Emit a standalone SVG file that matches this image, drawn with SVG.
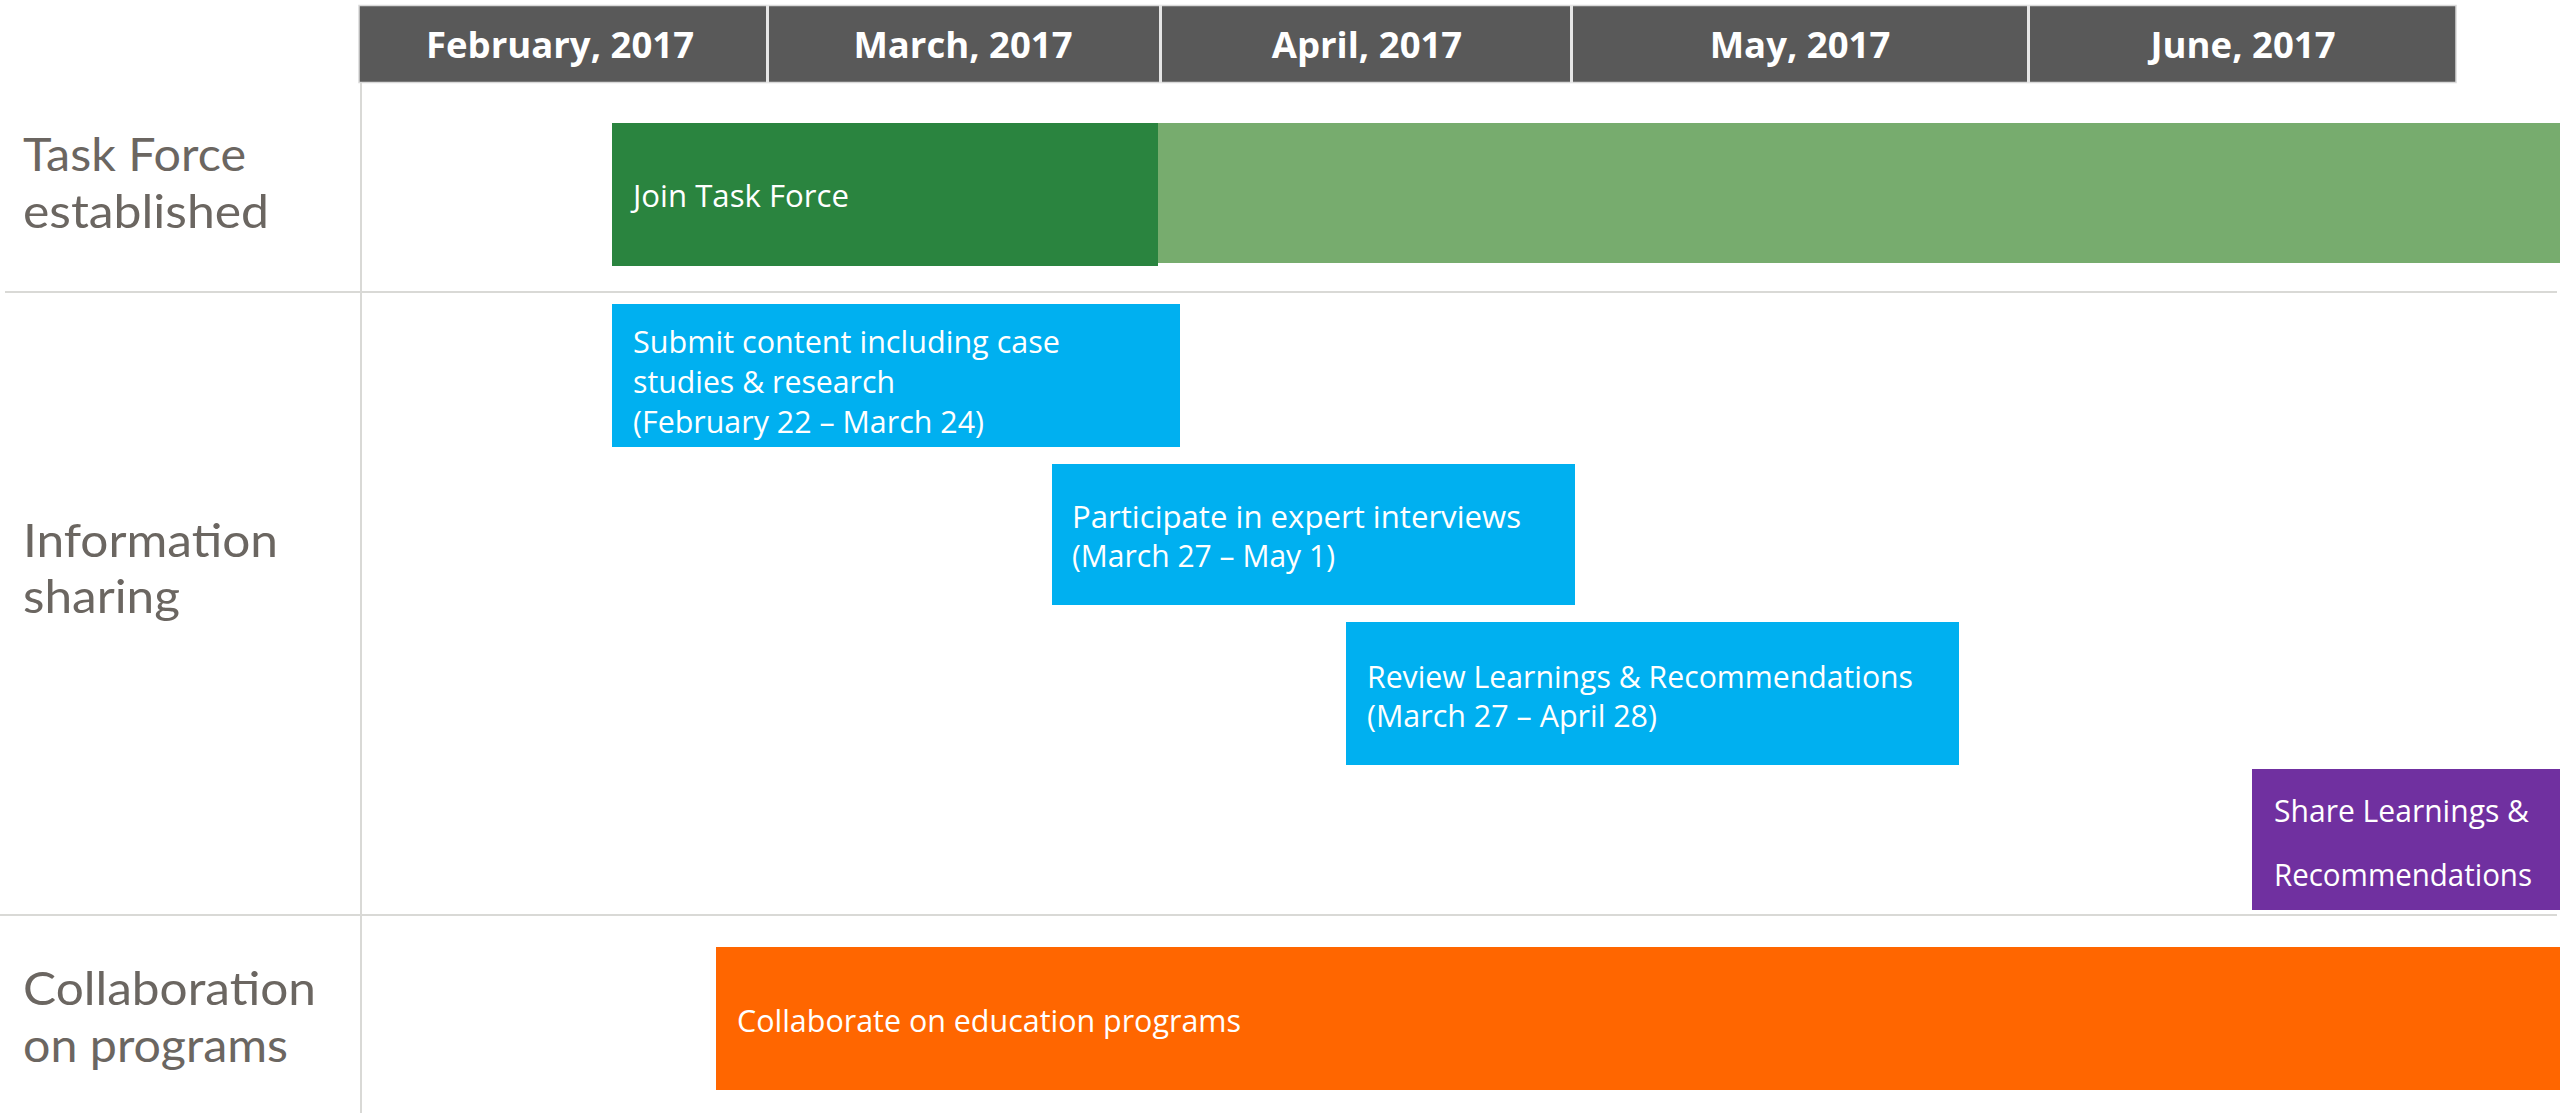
<svg xmlns="http://www.w3.org/2000/svg" width="2560" height="1113" viewBox="0 0 2560 1113">
<style>
.mon{font-family:"Open Sans","Noto Sans",sans-serif;font-weight:bold;font-size:36.5px;fill:#ffffff;text-anchor:middle;}
.lbl{font-family:Lato,"Open Sans",sans-serif;font-size:47px;fill:#6b6661;}
.bt{font-family:"Open Sans","Noto Sans",sans-serif;font-size:30.5px;fill:#ffffff;}
.grid{stroke:#d9d9d6;stroke-width:2;fill:none;}
</style>
<rect width="2560" height="1113" fill="#ffffff"/>
<g id="grid">
<line class="grid" x1="361" y1="82" x2="361" y2="1113"/>
<line class="grid" x1="5" y1="292" x2="2557" y2="292"/>
<line class="grid" x1="0" y1="915" x2="2557" y2="915"/>
</g>
<g id="header">
<rect x="359" y="5.5" width="2097" height="77" fill="#595959" stroke="#d9d9d9" stroke-width="1.5"/>
<g stroke="#e6e6e6" stroke-width="3">
<line x1="767.5" y1="5" x2="767.5" y2="83"/>
<line x1="1160.5" y1="5" x2="1160.5" y2="83"/>
<line x1="1571.5" y1="5" x2="1571.5" y2="83"/>
<line x1="2028.5" y1="5" x2="2028.5" y2="83"/>
</g>
<text class="mon" x="560" y="58">February, 2017</text>
<text class="mon" x="963" y="58">March, 2017</text>
<text class="mon" x="1367" y="58">April, 2017</text>
<text class="mon" x="1800" y="58">May, 2017</text>
<text class="mon" x="2243" y="58">June, 2017</text>
</g>
<g id="row-labels">
<text class="lbl" x="23" y="171" textLength="223" lengthAdjust="spacingAndGlyphs">Task Force</text>
<text class="lbl" x="23" y="228" textLength="246" lengthAdjust="spacingAndGlyphs">established</text>
<text class="lbl" x="23" y="557" textLength="255" lengthAdjust="spacingAndGlyphs">Information</text>
<text class="lbl" x="23" y="613" textLength="157" lengthAdjust="spacingAndGlyphs">sharing</text>
<text class="lbl" x="23" y="1005" textLength="293" lengthAdjust="spacingAndGlyphs">Collaboration</text>
<text class="lbl" x="23" y="1062" textLength="265" lengthAdjust="spacingAndGlyphs">on programs</text>
</g>
<g id="task-force-ongoing">
<rect x="1158" y="123" width="1402" height="140" fill="#77ac6e"/>
</g>
<g id="join-task-force">
<rect x="612" y="123" width="546" height="143" fill="#2a843f"/>
<text class="bt" x="633" y="207" textLength="216" lengthAdjust="spacingAndGlyphs">Join Task Force</text>
</g>
<g id="submit-content">
<rect x="612" y="304" width="568" height="143" fill="#00b0f0"/>
<text class="bt" x="633" y="353" textLength="427" lengthAdjust="spacingAndGlyphs">Submit content including  case</text>
<text class="bt" x="633" y="393" textLength="262" lengthAdjust="spacingAndGlyphs">studies &amp; research</text>
<text class="bt" x="633" y="433" textLength="351" lengthAdjust="spacingAndGlyphs">(February 22 – March 24)</text>
</g>
<g id="expert-interviews">
<rect x="1052" y="464" width="523" height="141" fill="#00b0f0"/>
<text class="bt" x="1072" y="528" textLength="449" lengthAdjust="spacingAndGlyphs">Participate in expert interviews</text>
<text class="bt" x="1072" y="567" textLength="263" lengthAdjust="spacingAndGlyphs">(March 27 – May 1)</text>
</g>
<g id="review-learnings">
<rect x="1346" y="622" width="613" height="143" fill="#00b0f0"/>
<text class="bt" x="1367" y="688" textLength="546" lengthAdjust="spacingAndGlyphs">Review Learnings &amp; Recommendations</text>
<text class="bt" x="1367" y="727" textLength="290" lengthAdjust="spacingAndGlyphs">(March 27 – April 28)</text>
</g>
<g id="share-learnings">
<rect x="2252" y="769" width="308" height="141" fill="#7030a0"/>
<text class="bt" x="2274" y="822" textLength="255" lengthAdjust="spacingAndGlyphs">Share Learnings &amp;</text>
<text class="bt" x="2274" y="886" textLength="258" lengthAdjust="spacingAndGlyphs">Recommendations</text>
</g>
<g id="collaborate">
<rect x="716" y="947" width="1844" height="143" fill="#ff6600"/>
<text class="bt" x="737" y="1032" textLength="504" lengthAdjust="spacingAndGlyphs">Collaborate on education programs</text>
</g>
<g id="connectors"></g>
</svg>
